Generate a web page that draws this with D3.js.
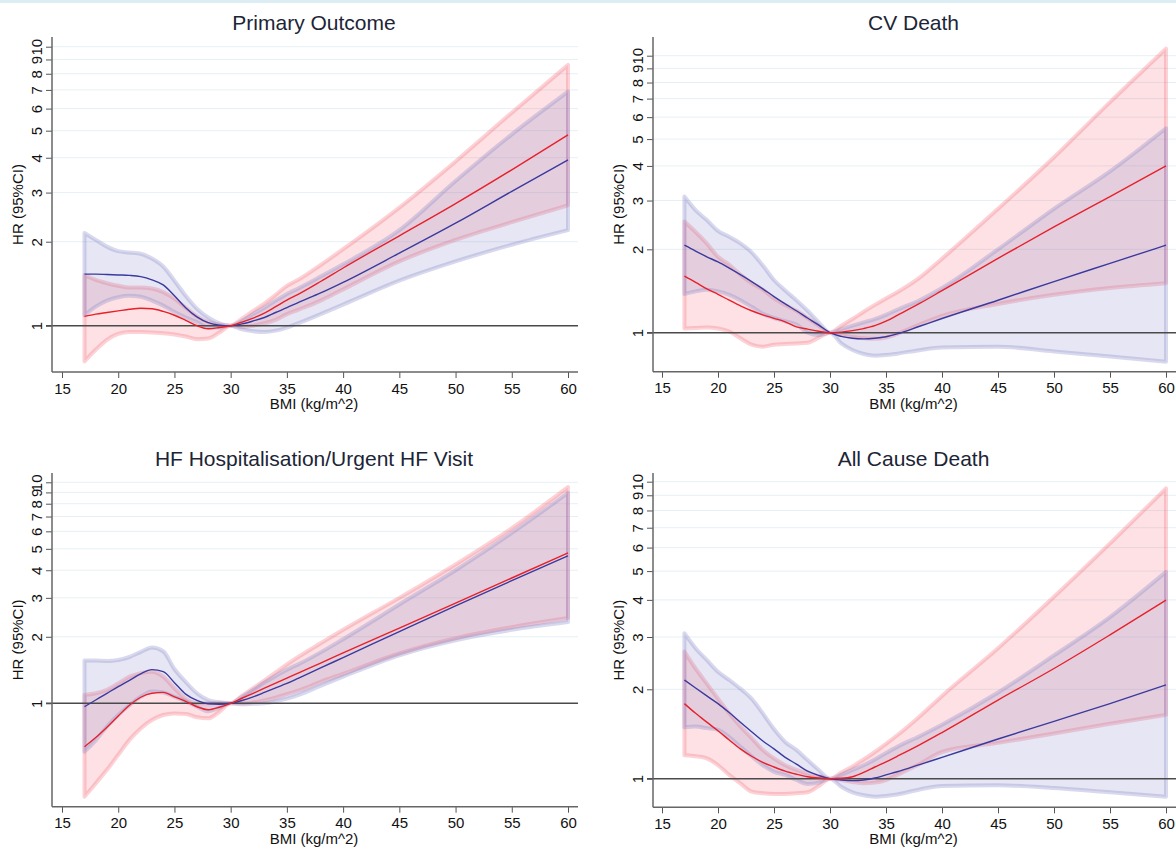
<!DOCTYPE html>
<html>
<head>
<meta charset="utf-8">
<script src="https://cdn.jsdelivr.net/npm/d3@7"></script>
<style>
body { margin: 0; background: #fff; }
text { font-family: "Liberation Sans", Arial, Helvetica, sans-serif; }
</style>
</head>
<body>
<script>
// BMI grid (kg/m^2) the estimates are read at
var bmi = [17,18,19,20,21,22,23,24,25,26,27,28,29,30,31,32,33,34,35,36,38,40,45,50,55,60];
var xTicks = [15,20,25,30,35,40,45,50,55,60];
var yTicks = [1,2,3,4,5,6,7,8,9,10];
var titles = ["Primary Outcome", "CV Death", "HF Hospitalisation/Urgent HF Visit", "All Cause Death"];

// Primary outcome
var p1BlueHR = [1.53,1.53,1.525,1.52,1.515,1.50,1.46,1.40,1.28,1.16,1.075,1.025,1.005,1,1.015,1.04,1.07,1.115,1.16,1.21,1.31,1.43,1.82,2.33,3.03,3.93];
var p1BlueLo = [1.09,1.17,1.23,1.265,1.28,1.27,1.23,1.18,1.12,1.07,1.03,0.985,0.985,1,0.97,0.955,0.95,0.96,0.985,1.02,1.10,1.19,1.45,1.70,1.95,2.2];
var p1BlueHi = [2.15,2.03,1.92,1.85,1.83,1.81,1.74,1.63,1.45,1.28,1.15,1.07,1.02,1,1.04,1.10,1.16,1.23,1.30,1.36,1.50,1.66,2.2,3.3,4.85,6.9];
var p1RedHR = [1.08,1.10,1.115,1.13,1.145,1.155,1.15,1.125,1.09,1.045,1.0,0.975,0.985,1,1.03,1.065,1.11,1.17,1.235,1.295,1.44,1.61,2.10,2.74,3.62,4.83];
var p1RedLo = [0.745,0.82,0.89,0.935,0.95,0.95,0.945,0.94,0.93,0.915,0.895,0.90,0.945,1,0.99,1.0,1.02,1.05,1.10,1.14,1.23,1.35,1.70,2.03,2.35,2.7];
var p1RedHi = [1.52,1.46,1.42,1.39,1.37,1.37,1.36,1.32,1.25,1.16,1.08,1.03,1.01,1,1.06,1.13,1.20,1.29,1.39,1.46,1.65,1.88,2.65,3.88,5.8,8.6];

// CV death
var p2BlueHR = [2.07,1.97,1.88,1.80,1.71,1.62,1.53,1.44,1.35,1.27,1.20,1.13,1.065,1,0.97,0.955,0.95,0.955,0.967,0.99,1.055,1.125,1.31,1.53,1.78,2.07];
var p2BlueLo = [1.38,1.41,1.43,1.41,1.37,1.31,1.24,1.17,1.13,1.10,1.07,1.0,0.98,1,0.915,0.866,0.838,0.826,0.83,0.84,0.865,0.885,0.89,0.855,0.82,0.786];
var p2BlueHi = [3.1,2.77,2.55,2.33,2.22,2.10,1.95,1.75,1.55,1.42,1.31,1.20,1.09,1,1.03,1.06,1.09,1.12,1.16,1.21,1.31,1.45,2.0,2.8,3.82,5.47];
var p2RedHR = [1.60,1.52,1.44,1.376,1.31,1.25,1.20,1.16,1.127,1.095,1.05,1.03,1.012,1,1.005,1.017,1.035,1.06,1.10,1.155,1.275,1.418,1.856,2.41,3.10,4.0];
var p2RedLo = [1.036,1.04,1.045,1.036,1.01,0.955,0.905,0.89,0.905,0.91,0.915,0.92,0.96,1,0.98,0.965,0.955,0.95,0.96,0.99,1.07,1.15,1.27,1.37,1.45,1.51];
var p2RedHi = [2.52,2.31,2.10,1.88,1.76,1.62,1.51,1.43,1.33,1.26,1.20,1.13,1.06,1,1.06,1.12,1.19,1.26,1.33,1.40,1.58,1.85,2.8,4.3,6.8,10.6];

// HF hospitalisation / urgent HF visit
var p3BlueHR = [0.965,1.035,1.11,1.19,1.27,1.36,1.42,1.39,1.24,1.10,1.03,0.995,0.99,1,1.03,1.07,1.12,1.175,1.23,1.297,1.446,1.61,2.11,2.76,3.59,4.65];
var p3BlueLo = [0.604,0.68,0.784,0.885,0.98,1.07,1.13,1.12,1.07,1.02,0.965,0.92,0.955,1,0.99,0.995,1.0,1.02,1.05,1.09,1.20,1.32,1.65,1.93,2.15,2.33];
var p3BlueHi = [1.56,1.56,1.555,1.57,1.62,1.71,1.79,1.72,1.43,1.25,1.11,1.035,1.01,1,1.07,1.15,1.24,1.33,1.42,1.50,1.70,1.95,2.8,4.0,5.9,8.95];
var p3RedHR = [0.636,0.70,0.78,0.876,0.98,1.065,1.11,1.12,1.07,1.02,0.965,0.935,0.96,1,1.054,1.11,1.17,1.234,1.30,1.37,1.52,1.69,2.19,2.84,3.69,4.79];
var p3RedLo = [0.378,0.434,0.50,0.584,0.683,0.77,0.84,0.885,0.90,0.895,0.864,0.855,0.916,1,1.0,1.01,1.03,1.06,1.10,1.14,1.25,1.36,1.68,1.97,2.21,2.43];
var p3RedHi = [1.09,1.11,1.15,1.23,1.32,1.37,1.39,1.32,1.17,1.05,1.0,1.0,1.005,1,1.08,1.17,1.27,1.38,1.50,1.62,1.87,2.15,3.0,4.25,6.2,9.5];

// All cause death
var p4BlueHR = [2.15,2.02,1.90,1.79,1.67,1.55,1.44,1.34,1.26,1.18,1.12,1.06,1.025,1,0.99,0.985,0.99,1.005,1.03,1.055,1.115,1.18,1.36,1.56,1.79,2.07];
var p4BlueLo = [1.49,1.50,1.48,1.46,1.38,1.28,1.19,1.11,1.055,1.03,0.99,0.96,0.97,1,0.94,0.90,0.88,0.87,0.875,0.885,0.92,0.945,0.95,0.93,0.90,0.87];
var p4BlueHi = [3.09,2.75,2.51,2.29,2.15,2.01,1.86,1.66,1.47,1.33,1.25,1.155,1.07,1,1.03,1.07,1.11,1.16,1.22,1.28,1.39,1.52,1.95,2.6,3.5,4.97];
var p4RedHR = [1.79,1.66,1.55,1.45,1.35,1.26,1.19,1.135,1.095,1.06,1.035,1.015,1.005,1,1.003,1.015,1.05,1.095,1.14,1.19,1.30,1.43,1.84,2.35,3.05,3.99];
var p4RedLo = [1.20,1.19,1.17,1.11,1.03,0.965,0.905,0.893,0.888,0.888,0.893,0.90,0.945,1,0.99,0.975,0.965,0.97,0.99,1.03,1.12,1.23,1.32,1.42,1.53,1.64];
var p4RedHi = [2.68,2.35,2.09,1.86,1.66,1.50,1.37,1.25,1.17,1.11,1.07,1.04,1.02,1,1.05,1.10,1.16,1.23,1.31,1.40,1.62,1.90,2.75,4.1,6.2,9.5];

var series = [
    {blue: [p1BlueHR, p1BlueLo, p1BlueHi], red: [p1RedHR, p1RedLo, p1RedHi]},
    {blue: [p2BlueHR, p2BlueLo, p2BlueHi], red: [p2RedHR, p2RedLo, p2RedHi]},
    {blue: [p3BlueHR, p3BlueLo, p3BlueHi], red: [p3RedHR, p3RedLo, p3RedHi]},
    {blue: [p4BlueHR, p4BlueLo, p4BlueHi], red: [p4RedHR, p4RedLo, p4RedHi]}
];

// panel frames in page pixels
var frames = [
    {left: 52,  right: 578,  top: 37,  bottom: 372,   x15: 62,  x60: 568,  y1: 325.7, y10: 46.7},
    {left: 653, right: 1176, top: 37,  bottom: 371.7, x15: 662, x60: 1166, y1: 332.7, y10: 55.7},
    {left: 52,  right: 578,  top: 473, bottom: 806.7, x15: 62,  x60: 568,  y1: 703.3, y10: 482.3},
    {left: 653, right: 1176, top: 473, bottom: 807.3, x15: 662, x60: 1166, y1: 778.7, y10: 481.7}
];

var svg = d3.select("body").append("svg")
    .attr("width", 1176)
    .attr("height", 849)

svg.append("rect")
    .attr("x", 0).attr("y", 0)
    .attr("width", 1176).attr("height", 3)
    .attr("fill", "#dcedf4")

var blueLine = "#3a3a9e", redLine = "#e8202a";
var blueBand = "#8080c8", redBand = "#f46a78";

for (var ii = 0; ii < 4; ii++) {
    var f = frames[ii];
    var s = series[ii];
    var g = svg.append("g");

    var x = d3.scaleLinear().domain([15, 60]).range([f.x15, f.x60]);
    var y = d3.scaleLog().domain([1, 10]).range([f.y1, f.y10]);

    // gridlines
    g.selectAll(".grid").data(yTicks.slice(1)).enter().append("line")
        .attr("x1", f.left).attr("x2", f.right)
        .attr("y1", function(d){ return y(d); })
        .attr("y2", function(d){ return y(d); })
        .attr("stroke", "#e6f0f4")
        .attr("stroke-width", 1)

    function band(arr, color) {
        var area = d3.area()
            .x(function(d, i){ return x(bmi[i]); })
            .y0(function(d, i){ return y(arr[1][i]); })
            .y1(function(d, i){ return y(arr[2][i]); })
            .curve(d3.curveMonotoneX);
        g.append("path")
            .attr("d", area(bmi))
            .attr("fill", color)
            .attr("fill-opacity", 0.2)
            .attr("stroke", color)
            .attr("stroke-opacity", 0.3)
            .attr("stroke-width", 4)
            .attr("stroke-linejoin", "round")
    }
    band(s.red, redBand);
    band(s.blue, blueBand);

    // reference line at HR = 1
    g.append("line")
        .attr("x1", f.left - 6).attr("x2", f.right)
        .attr("y1", y(1)).attr("y2", y(1))
        .attr("stroke", "#4a4a4a")
        .attr("stroke-width", 1.4)

    function curve(vals, color) {
        var line = d3.line()
            .x(function(d, i){ return x(bmi[i]); })
            .y(function(d, i){ return y(vals[i]); })
            .curve(d3.curveMonotoneX);
        g.append("path")
            .attr("d", line(bmi))
            .attr("fill", "none")
            .attr("stroke", color)
            .attr("stroke-width", 1.4)
    }
    curve(s.blue[0], blueLine);
    curve(s.red[0], redLine);

    // y axis
    var yAxis = d3.axisLeft(y).tickValues(yTicks).tickSize(6).tickFormat(d3.format("d"));
    var ya = g.append("g").attr("transform", "translate(" + f.left + ",0)").call(yAxis);
    ya.select(".domain").remove();
    ya.selectAll(".tick line").attr("stroke", "#555");
    ya.selectAll(".tick text")
        .attr("x", null).attr("dy", null)
        .attr("transform", "translate(-10,0) rotate(-90)")
        .attr("text-anchor", "middle")
        .attr("font-size", 15)
        .attr("fill", "#111");
    g.append("line")
        .attr("x1", f.left).attr("x2", f.left)
        .attr("y1", f.top).attr("y2", f.bottom)
        .attr("stroke", "#666").attr("stroke-width", 1.5)

    // x axis
    var xAxis = d3.axisBottom(x).tickValues(xTicks).tickSize(6).tickPadding(5);
    var xa = g.append("g").attr("transform", "translate(0," + f.bottom + ")").call(xAxis);
    xa.select(".domain").remove();
    xa.selectAll(".tick line").attr("stroke", "#555");
    xa.selectAll(".tick text").attr("font-size", 15).attr("fill", "#111");
    g.append("line")
        .attr("x1", f.left).attr("x2", f.right)
        .attr("y1", f.bottom).attr("y2", f.bottom)
        .attr("stroke", "#666").attr("stroke-width", 1.5)

    // titles
    g.append("text")
        .attr("x", (f.left + f.right) / 2 - 1)
        .attr("y", f.top - 7)
        .attr("text-anchor", "middle")
        .attr("font-size", 21)
        .attr("fill", "#1c2536")
        .text(titles[ii])
    g.append("text")
        .attr("x", (f.left + f.right) / 2 - 1)
        .attr("y", f.bottom + 37)
        .attr("text-anchor", "middle")
        .attr("font-size", 15)
        .attr("fill", "#111")
        .text("BMI (kg/m^2)")
    g.append("text")
        .attr("transform", "translate(" + (f.left - 29) + "," + ((f.top + f.bottom) / 2) + ") rotate(-90)")
        .attr("text-anchor", "middle")
        .attr("font-size", 15)
        .attr("fill", "#111")
        .text("HR (95%CI)")
}
</script>
</body>
</html>
